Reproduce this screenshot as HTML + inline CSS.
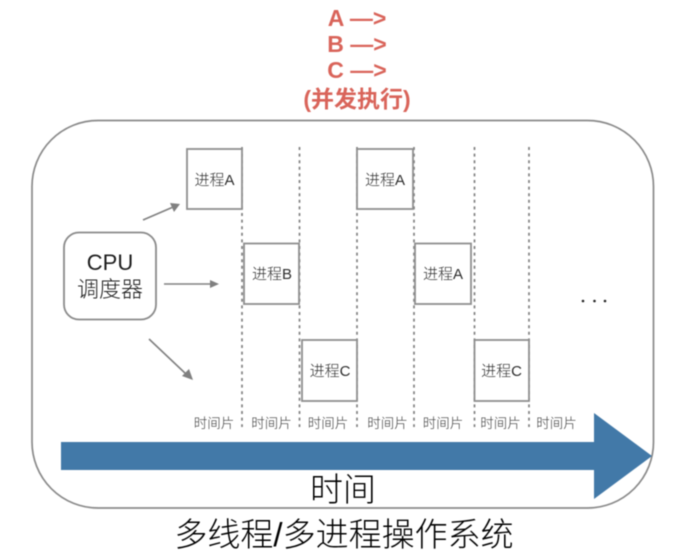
<!DOCTYPE html>
<html><head><meta charset="utf-8"><style>
html,body{margin:0;padding:0;background:#fff;width:699px;height:552px;overflow:hidden}
svg{display:block;filter:blur(.5px)}
text{font-family:"Liberation Sans","Noto Sans CJK SC",sans-serif;text-anchor:middle;fill:#1c1c1c;font-weight:300}
.r{fill:#d9645a;font-weight:bold;font-size:23px}
.t{font-size:13.5px;fill:#3c3c3c}
.p{font-size:15px;fill:#2c2c2c}
.d{stroke:#808080;stroke-width:1.7;stroke-dasharray:3 3.6;fill:none}
.b{stroke:#8e8e8e;stroke-width:1.8;fill:#fff}
.a{stroke:#808080;stroke-width:1.6;fill:none}
.h{fill:#808080}
</style></head><body>
<svg width="699" height="552" viewBox="0 0 699 552" xmlns="http://www.w3.org/2000/svg">
<rect width="699" height="552" fill="#fff"/>
<text class="r" x="357" y="26">A —&gt;</text>
<text class="r" x="357" y="52">B —&gt;</text>
<text class="r" x="357" y="78">C —&gt;</text>
<text class="r" x="357" y="107">(并发执行)</text>
<rect x="32" y="120.500" width="621.500" height="387.500" rx="66" ry="66" fill="#fff" stroke="#8a8a8a" stroke-width="1.700"/>
<line class="d" x1="242" y1="147" x2="242" y2="427"/>
<line class="d" x1="299.500" y1="147" x2="299.500" y2="427"/>
<line class="d" x1="357" y1="147" x2="357" y2="427"/>
<line class="d" x1="414" y1="147" x2="414" y2="427"/>
<line class="d" x1="474.500" y1="147" x2="474.500" y2="427"/>
<line class="d" x1="529" y1="147" x2="529" y2="427"/>
<rect class="b" x="187" y="149" width="55" height="60"/>
<rect class="b" x="244" y="243.500" width="55" height="60.500"/>
<rect class="b" x="302" y="340" width="55" height="61"/>
<rect class="b" x="357" y="149" width="56" height="60"/>
<rect class="b" x="415" y="243.500" width="56" height="60.500"/>
<rect class="b" x="474.500" y="340" width="54.500" height="61"/>
<text class="p" x="214.500" y="185">进程A</text>
<text class="p" x="272" y="279">进程B</text>
<text class="p" x="330" y="376">进程C</text>
<text class="p" x="385" y="185">进程A</text>
<text class="p" x="443" y="279">进程A</text>
<text class="p" x="501.500" y="376">进程C</text>
<rect x="64" y="232.500" width="92" height="87" rx="15" ry="15" fill="#fff" stroke="#8a8a8a" stroke-width="1.800"/>
<text x="110" y="270" style="font-size:22px">CPU</text>
<text x="110" y="297" style="font-size:22px">调度器</text>
<line class="a" x1="143" y1="220" x2="172" y2="207.500"/>
<polygon class="h" points="180,204 170,203 174,212"/>
<line class="a" x1="164" y1="284" x2="210" y2="284"/>
<polygon class="h" points="219,284 210,280 210,288"/>
<line class="a" x1="149" y1="339" x2="186" y2="374"/>
<polygon class="h" points="193,380 189,369 182,376"/>
<circle cx="583" cy="301" r="1.300" fill="#222"/>
<circle cx="594.500" cy="301" r="1.300" fill="#222"/>
<circle cx="605" cy="301" r="1.300" fill="#222"/>
<text class="t" x="214" y="428">时间片</text>
<text class="t" x="271.500" y="428">时间片</text>
<text class="t" x="328" y="428">时间片</text>
<text class="t" x="387.500" y="428">时间片</text>
<text class="t" x="443" y="428">时间片</text>
<text class="t" x="500.500" y="428">时间片</text>
<text class="t" x="556.500" y="428">时间片</text>
<polygon points="61,442 594,442 594,413 652,456 594,499 594,470 61,470" fill="#4279a8"/>
<text x="343" y="501" style="font-size:33px;fill:#000">时间</text>
<text x="344" y="546" style="font-size:33px;fill:#000">多线程/多进程操作系统</text>
</svg>
</body></html>
